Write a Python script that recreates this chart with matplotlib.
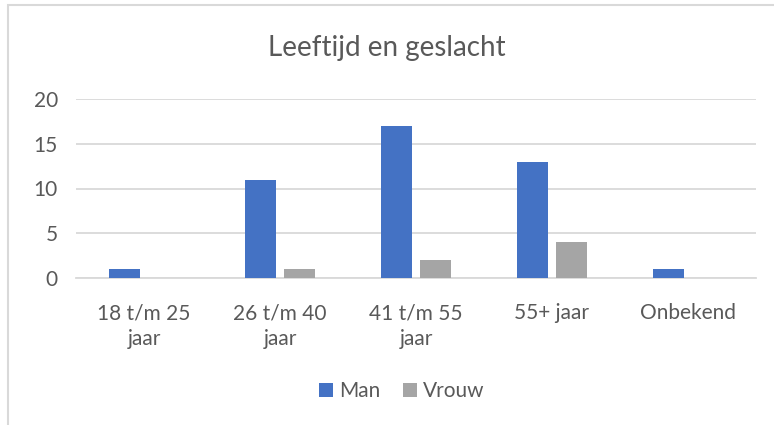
import numpy as np
import matplotlib.pyplot as plt
from matplotlib.patches import Rectangle

categories = ['18 t/m 25\njaar', '26 t/m 40\njaar', '41 t/m 55\njaar', '55+ jaar', 'Onbekend']
man = [1, 11, 17, 13, 1]
vrouw = [0, 1, 2, 4, 0]
y_ticks = [0, 5, 10, 15, 20]

plt.rcParams['font.family'] = ['Lato', 'DejaVu Sans']
text_color = '#595959'

fig = plt.figure(figsize=(7.74, 4.25), dpi=100)
ax = fig.add_axes([76 / 774, 1 - 278 / 425, 680 / 774, 179 / 425])

x = np.arange(len(categories))
width = 0.228
gap = 0.06
ax.bar(x - (width + gap) / 2, man, width, color='#4472C4', label='Man', zorder=3)
ax.bar(x + (width + gap) / 2, vrouw, width, color='#A5A5A5', label='Vrouw', zorder=3)

ax.set_xlim(-0.5, len(categories) - 0.5)
ax.set_ylim(0, 20)
ax.set_yticks(y_ticks)
ax.set_xticks(x)
ax.set_xticklabels(categories, color=text_color, fontsize=15, linespacing=1.35)
ax.tick_params(axis='y', labelcolor=text_color, labelsize=15, length=0, pad=13)
ax.tick_params(axis='x', length=0, pad=18)
ax.grid(axis='y', color='#D9D9D9', linewidth=1.3, zorder=0)
for s in ['top', 'right', 'left']:
    ax.spines[s].set_visible(False)
ax.spines['bottom'].set_color('#D9D9D9')
ax.spines['bottom'].set_linewidth(1.3)

fig.text(0.5, 1 - 48 / 425, 'Leeftijd en geslacht', ha='center', va='center',
         fontsize=20, color=text_color)

fig.legend(loc='center', bbox_to_anchor=(402 / 774, 1 - 391 / 425), ncol=2,
           frameon=False, fontsize=15, labelcolor=text_color,
           handlelength=0.65, handleheight=0.65, handletextpad=0.3, columnspacing=1.1)

# chart frame border (top and left visible)
fig.patches.append(Rectangle((8 / 774, -0.1), 1.2, 1 - 5 / 425 + 0.1,
                             transform=fig.transFigure, fill=False,
                             edgecolor='#D9D9D9', linewidth=1.5))

fig.savefig('out.png', dpi=100)
